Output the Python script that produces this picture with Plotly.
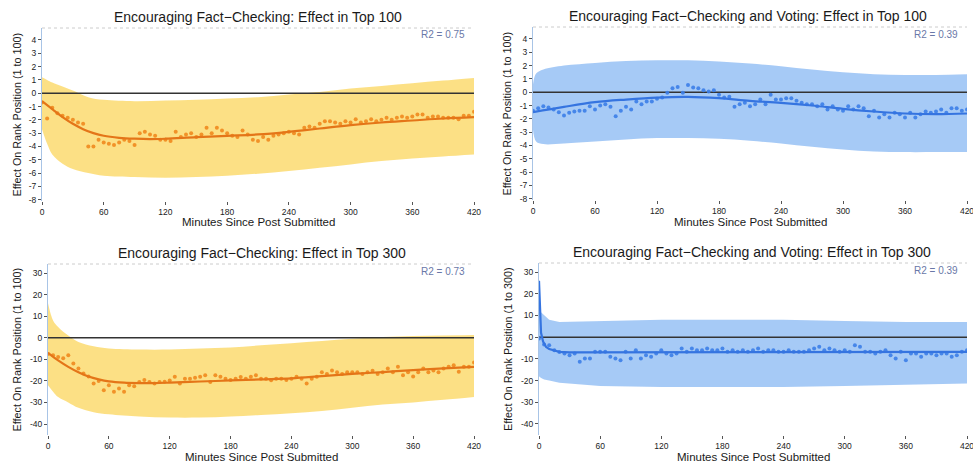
import plotly.graph_objects as go

W, H = 973, 466

MINUTES = list(range(0, 421, 5))
XTICKS = [0, 60, 120, 180, 240, 300, 360, 420]

# ---- Panel 1: Fact-Checking, Top 100 ----
P1_POINTS = [-0.7, -1.9, -1.1, -1.5, -1.7, -1.85, -2.0, -2.2, -2.3, -4.0, -4.0, -3.5, -3.7, -3.8,
             -3.9, -3.7, -3.5, -3.6, -3.9, -3.0, -2.9, -3.1, -3.2, -3.5, -3.5, -3.6, -2.9, -3.3,
             -3.1, -3.0, -3.3, -3.1, -2.6, -3.0, -2.6, -2.8, -3.0, -3.2, -3.3, -2.8, -3.1, -3.5,
             -3.6, -3.3, -3.5, -3.2, -3.1, -3.0, -2.9, -3.0, -3.1, -2.6, -2.5, -2.6, -2.3, -2.1,
             -2.1, -2.2, -2.3, -2.1, -2.2, -1.95, -2.2, -2.1, -1.95, -2.1, -2.0, -1.85, -2.0, -1.85,
             -1.75, -1.85, -1.75, -1.6, -1.6, -1.85, -1.75, -1.75, -1.85, -1.85, -1.85, -1.95, -1.7,
             -1.7, -1.4]
P1_FIT_X = [0, 10, 20, 30, 40, 50, 60, 75, 90, 105, 120, 150, 180, 210, 240, 270, 300, 330, 360, 390, 420]
P1_FIT_Y = [-0.6, -1.2, -1.8, -2.3, -2.7, -3.0, -3.2, -3.35, -3.42, -3.45, -3.42, -3.3, -3.2, -3.1,
            -2.9, -2.65, -2.4, -2.2, -2.05, -1.9, -1.8]
P1_BAND_X = [0, 5, 10, 20, 30, 45, 60, 90, 120, 150, 180, 210, 240, 270, 300, 330, 360, 390, 420]
P1_UPPER = [1.2, 1.0, 0.8, 0.5, 0.2, -0.3, -0.5, -0.6, -0.55, -0.5, -0.4, -0.3, -0.1, 0.1, 0.35,
            0.55, 0.75, 0.95, 1.15]
P1_LOWER = [-2.7, -3.8, -4.6, -5.3, -5.7, -6.0, -6.2, -6.3, -6.35, -6.3, -6.2, -6.05, -5.85, -5.6,
            -5.35, -5.1, -4.9, -4.75, -4.6]

# ---- Panel 2: Fact-Checking and Voting, Top 100 ----
P2_POINTS = [-1.4, -1.2, -1.05, -1.15, -1.3, -1.5, -1.75, -1.55, -1.45, -1.4, -1.4, -1.05, -1.3,
             -1.0, -0.9, -1.1, -1.8, -1.4, -1.1, -1.3, -0.7, -0.9, -0.7, -0.7, -0.5, -0.4, -0.05,
             0.3, 0.4, -0.05, 0.55, 0.35, 0.3, 0.15, 0.05, 0.15, -0.2, -0.4, -0.35, -1.1, -0.9,
             -0.8, -1.05, -0.9, -0.55, -0.9, -0.2, -0.55, -0.55, -0.45, -0.45, -0.65, -0.8, -0.9,
             -0.9, -1.05, -0.9, -1.3, -1.05, -1.3, -1.4, -1.05, -1.3, -1.05, -1.2, -1.8, -1.4, -1.9,
             -1.65, -1.9, -1.55, -1.65, -1.9, -1.55, -1.9, -1.65, -1.45, -1.55, -1.45, -1.3, -1.55,
             -1.2, -1.2, -1.4, -1.3]
P2_FIT_X = [0, 30, 60, 90, 120, 150, 180, 210, 240, 270, 300, 330, 360, 390, 420]
P2_FIT_Y = [-1.5, -1.1, -0.75, -0.55, -0.4, -0.35, -0.45, -0.65, -0.8, -1.0, -1.25, -1.45, -1.6,
            -1.65, -1.6]
P2_BAND_X = [0, 3, 10, 30, 60, 90, 120, 150, 180, 210, 240, 270, 300, 330, 360, 390, 420]
P2_UPPER = [0.6, 1.4, 1.7, 2.0, 2.2, 2.35, 2.4, 2.4, 2.3, 2.15, 1.95, 1.7, 1.5, 1.35, 1.3, 1.3, 1.35]
P2_LOWER = [-2.8, -3.7, -3.9, -3.85, -3.7, -3.55, -3.45, -3.45, -3.5, -3.65, -3.85, -4.1, -4.3,
            -4.45, -4.5, -4.5, -4.5]

# ---- Panel 3: Fact-Checking, Top 300 ----
P3_POINTS = [-7.5, -8.1, -8.9, -9.5, -8.1, -12.0, -14.3, -16.6, -18.0, -21.2, -20.0, -24.3, -22.0,
             -25.0, -23.5, -25.0, -22.0, -22.5, -20.5, -19.6, -20.5, -21.2, -20.5, -20.4, -19.8,
             -18.1, -21.2, -19.0, -19.0, -18.5, -18.1, -17.4, -20.5, -17.4, -18.1, -19.0, -19.6,
             -19.0, -18.2, -19.0, -18.1, -17.4, -19.0, -19.0, -19.7, -19.0, -19.0, -19.6, -19.0,
             -18.1, -19.0, -21.2, -19.0, -18.1, -16.0, -16.8, -15.2, -16.0, -16.8, -16.0, -16.0,
             -16.0, -16.8, -16.0, -15.3, -16.8, -16.0, -14.3, -16.0, -13.5, -17.4, -16.0, -18.0,
             -16.0, -14.3, -16.0, -15.2, -16.0, -14.3, -13.5, -12.8, -15.8, -13.5, -13.5, -11.5]
P3_FIT_X = [0, 10, 20, 30, 40, 50, 60, 75, 90, 105, 120, 150, 180, 210, 240, 270, 300, 330, 360, 390, 420]
P3_FIT_Y = [-7.0, -10.5, -13.5, -16.0, -18.0, -19.3, -20.2, -20.8, -21.0, -21.0, -20.8, -20.3,
            -19.8, -19.3, -18.8, -17.8, -16.8, -15.9, -15.0, -14.2, -13.5]
P3_BAND_X = [0, 5, 10, 20, 30, 45, 60, 90, 120, 150, 180, 210, 240, 270, 300, 330, 360, 390, 420]
P3_UPPER = [16.0, 8.0, 5.0, 1.0, -2.0, -4.0, -5.0, -5.5, -5.5, -5.0, -4.5, -3.5, -2.5, -1.5, -0.5,
            0.3, 0.8, 1.1, 1.3]
P3_LOWER = [-22.0, -25.0, -27.5, -30.0, -32.5, -34.5, -35.5, -36.5, -37.0, -37.0, -36.5, -35.8,
            -35.0, -34.0, -32.5, -31.0, -30.0, -28.8, -27.5]

# ---- Panel 4: Fact-Checking and Voting, Top 300 ----
P4_POINTS = [-0.6, -3.4, -3.7, -6.0, -6.8, -7.5, -8.3, -7.5, -11.3, -9.8, -9.8, -6.7, -6.7, -6.7,
             -9.0, -9.8, -10.6, -6.7, -9.8, -6.0, -9.8, -8.3, -9.0, -7.5, -6.0, -7.5, -8.3, -7.5,
             -5.2, -6.7, -5.2, -6.0, -6.0, -5.2, -6.0, -6.0, -5.2, -6.7, -6.0, -6.7, -6.0, -6.7,
             -6.0, -5.2, -6.7, -6.0, -6.0, -6.7, -6.7, -6.0, -6.7, -6.7, -6.7, -6.0, -5.2, -4.4,
             -6.0, -5.2, -6.0, -6.7, -6.0, -6.7, -3.7, -4.4, -6.7, -6.7, -7.5, -6.7, -6.0, -8.3,
             -9.8, -6.7, -10.6, -7.5, -7.5, -9.0, -7.5, -7.5, -8.3, -7.5, -7.5, -9.0, -8.3, -6.7, -6.0]
P4_FIT_X = [0, 1, 2, 4, 7, 10, 15, 20, 30, 60, 120, 180, 240, 300, 360, 420]
P4_FIT_Y = [26.0, 8.0, 2.0, -2.0, -4.5, -5.5, -6.3, -6.8, -7.0, -7.0, -7.0, -7.0, -7.0, -7.0, -7.0, -6.8]
P4_BAND_X = [0, 1, 3, 5, 10, 20, 60, 120, 180, 240, 300, 360, 420]
P4_UPPER = [13.0, 12.0, 11.0, 10.0, 8.0, 7.0, 7.5, 8.0, 8.0, 8.0, 7.5, 7.0, 7.0]
P4_LOWER = [-18.0, -18.5, -19.0, -19.5, -20.0, -21.0, -22.5, -23.0, -23.0, -23.0, -22.5, -22.0, -21.3]

TITLES = ["Encouraging Fact\u2212Checking: Effect in Top 100",
          "Encouraging Fact\u2212Checking and Voting: Effect in Top 100",
          "Encouraging Fact\u2212Checking: Effect in Top 300",
          "Encouraging Fact\u2212Checking and Voting: Effect in Top 300"]
YTITLES = ["Effect On Rank Position (1 to 100)", "Effect On Rank Position (1 to 100)",
           "Effect On Rank Position (1 to 100)", "Effect On Rank Position (1 to 300)"]
R2 = ["R2 = 0.75", "R2 = 0.39", "R2 = 0.73", "R2 = 0.39"]
YTICKS_TOP = [4, 3, 2, 1, 0, -1, -2, -3, -4, -5, -6, -7, -8]
YTICKS_BOT = [30, 20, 10, 0, -10, -20, -30, -40]

ORANGE_BAND = "rgba(252,219,112,0.85)"
ORANGE_PT = "#F08A1E"
ORANGE_LN = "#E47518"
BLUE_BAND = "rgba(150,193,244,0.85)"
BLUE_PT = "#3C7EE8"
BLUE_LN = "#3574E0"

FONT = "Liberation Sans, Arial, sans-serif"

PANELS = [
    dict(px=(42, 474), py=(28, 201), yr=(-8.1, 4.9), yt=YTICKS_TOP, tc=258, ty=17, ytx=16, xty=222,
         pts=P1_POINTS, fx=P1_FIT_X, fy=P1_FIT_Y, bx=P1_BAND_X, bu=P1_UPPER, bl=P1_LOWER,
         band=ORANGE_BAND, pt=ORANGE_PT, ln=ORANGE_LN),
    dict(px=(533, 967), py=(27, 200), yr=(-8.1, 4.9), yt=YTICKS_TOP, tc=748, ty=16, ytx=507, xty=222,
         pts=P2_POINTS, fx=P2_FIT_X, fy=P2_FIT_Y, bx=P2_BAND_X, bu=P2_UPPER, bl=P2_LOWER,
         band=BLUE_BAND, pt=BLUE_PT, ln=BLUE_LN),
    dict(px=(48, 474), py=(264, 435), yr=(-45.1, 34.2), yt=YTICKS_BOT, tc=262, ty=253, ytx=16, xty=457,
         pts=P3_POINTS, fx=P3_FIT_X, fy=P3_FIT_Y, bx=P3_BAND_X, bu=P3_UPPER, bl=P3_LOWER,
         band=ORANGE_BAND, pt=ORANGE_PT, ln=ORANGE_LN),
    dict(px=(539, 967), py=(263, 435), yr=(-45.1, 34.2), yt=YTICKS_BOT, tc=752, ty=252, ytx=508, xty=457,
         pts=P4_POINTS, fx=P4_FIT_X, fy=P4_FIT_Y, bx=P4_BAND_X, bu=P4_UPPER, bl=P4_LOWER,
         band=BLUE_BAND, pt=BLUE_PT, ln=BLUE_LN),
]

fig = go.Figure()
annotations = []
shapes = []
layout_axes = {}

for i, p in enumerate(PANELS):
    n = i + 1
    xa = "x" if n == 1 else f"x{n}"
    ya = "y" if n == 1 else f"y{n}"
    xkey = "xaxis" if n == 1 else f"xaxis{n}"
    ykey = "yaxis" if n == 1 else f"yaxis{n}"
    smooth = "linear" if n == 4 else "spline"

    fig.add_trace(go.Scatter(x=p["bx"], y=p["bl"], mode="lines", line=dict(width=0, shape=smooth),
                             xaxis=xa, yaxis=ya, showlegend=False, hoverinfo="skip"))
    fig.add_trace(go.Scatter(x=p["bx"], y=p["bu"], mode="lines", line=dict(width=0, shape=smooth),
                             fill="tonexty", fillcolor=p["band"],
                             xaxis=xa, yaxis=ya, showlegend=False, hoverinfo="skip"))
    fig.add_trace(go.Scatter(x=[0, 420], y=[0, 0], mode="lines", line=dict(color="#333333", width=1.5),
                             xaxis=xa, yaxis=ya, showlegend=False, hoverinfo="skip"))
    fig.add_trace(go.Scatter(x=MINUTES, y=p["pts"], mode="markers",
                             marker=dict(color=p["pt"], size=4, opacity=0.9),
                             xaxis=xa, yaxis=ya, showlegend=False))
    fig.add_trace(go.Scatter(x=p["fx"], y=p["fy"], mode="lines",
                             line=dict(color=p["ln"], width=2.2, shape=smooth),
                             xaxis=xa, yaxis=ya, showlegend=False))

    x0, x1 = p["px"]
    yt, yb = p["py"]
    layout_axes[xkey] = dict(domain=[x0 / W, x1 / W], range=[0, 420], anchor=ya, automargin=False,
                             tickvals=XTICKS, ticktext=[str(v) for v in XTICKS],
                             ticklabeloverflow="allow",
                             ticks="outside", ticklen=3, tickcolor="#555", showgrid=False,
                             zeroline=False, showline=False,
                             tickfont=dict(size=8.5, color="#222", family=FONT))
    layout_axes[ykey] = dict(domain=[1 - yb / H, 1 - yt / H], range=list(p["yr"]), anchor=xa,
                             automargin=False,
                             tickvals=p["yt"], ticktext=[str(v) for v in p["yt"]],
                             ticks="outside", ticklen=3, tickcolor="#555", showgrid=False,
                             zeroline=False, showline=True, linecolor="#a8c4e6", linewidth=1,
                             tickfont=dict(size=8.5, color="#222", family=FONT))
    shapes.append(dict(type="line", xref="paper", yref="paper", x0=x0 / W, x1=x1 / W,
                       y0=1 - yt / H, y1=1 - yt / H, line=dict(color="#cccccc", width=1, dash="dot")))

    annotations.append(dict(text=TITLES[i], x=p["tc"] / W, y=1 - p["ty"] / H, xref="paper", yref="paper",
                            xanchor="center", yanchor="middle", showarrow=False,
                            font=dict(size=14, color="#1a1a1a", family=FONT)))
    annotations.append(dict(text="Minutes Since Post Submitted", x=(x0 + x1) / 2 / W, y=1 - p["xty"] / H,
                            xref="paper", yref="paper", xanchor="center", yanchor="middle",
                            showarrow=False, font=dict(size=11.5, color="#1a1a1a", family=FONT)))
    annotations.append(dict(text=YTITLES[i], x=p["ytx"] / W, y=1 - (yt + yb) / 2 / H,
                            xref="paper", yref="paper", xanchor="center", yanchor="middle",
                            textangle=-90, showarrow=False,
                            font=dict(size=10.8, color="#1a1a1a", family=FONT)))
    annotations.append(dict(text=R2[i], x=(x1 - 7) / W, y=1 - (yt + 7) / H, xref="paper", yref="paper",
                            xanchor="right", yanchor="middle", showarrow=False,
                            font=dict(size=10, color="#6a78a8", family=FONT)))

fig.update_layout(width=W, height=H, margin=dict(l=0, r=0, t=0, b=0, autoexpand=False),
                  paper_bgcolor="white", plot_bgcolor="white",
                  font=dict(family=FONT), annotations=annotations, shapes=shapes,
                  **layout_axes)

fig.write_html("out.html", config={"displayModeBar": False},
               post_script="document.body.style.margin='0';document.body.style.overflow='hidden';")
